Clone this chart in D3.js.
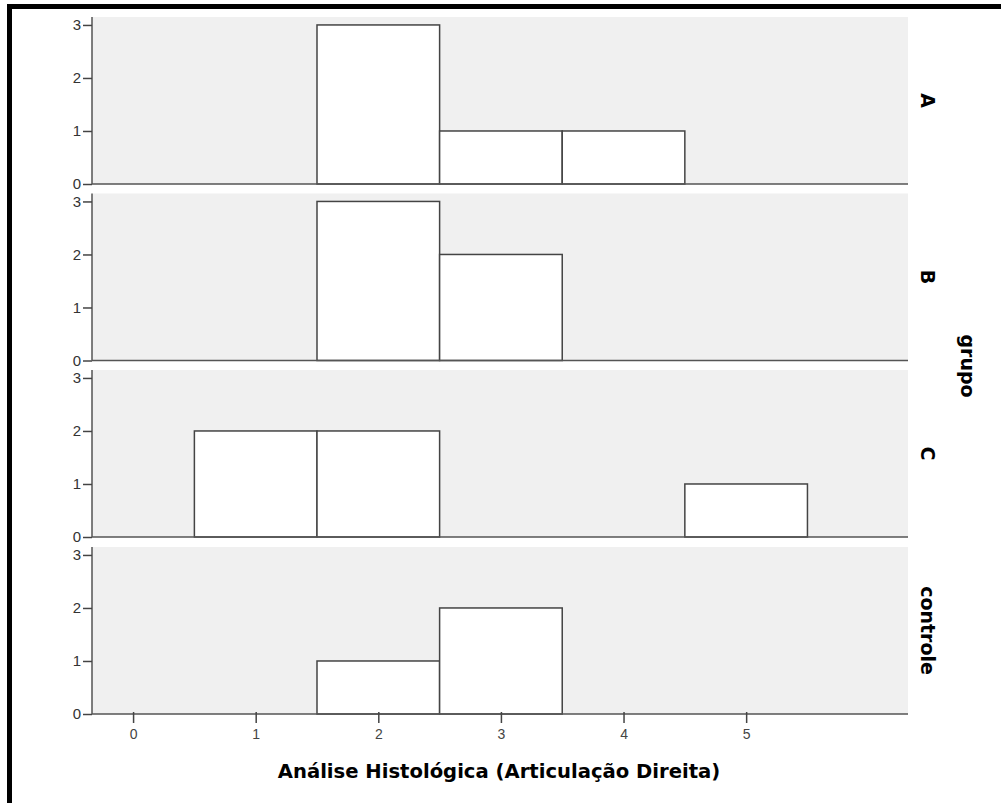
<!DOCTYPE html>
<html><head><meta charset="utf-8">
<script src="https://cdn.jsdelivr.net/npm/d3@7"></script>
<style>body{margin:0;background:#fff}svg{display:block}</style>
</head><body>
<svg id="c" width="1001" height="803"></svg>
<script>
const groups = ["A", "B", "C", "controle"];
const binCenters = [1, 2, 3, 4, 5];
const countsA = [0, 3, 1, 1, 0];
const countsB = [0, 3, 2, 0, 0];
const countsC = [2, 2, 0, 0, 1];
const countsControle = [0, 1, 2, 0, 0];
const xTicks = [0, 1, 2, 3, 4, 5];
const yTicks = [0, 1, 2, 3];
const xTitle = "Análise Histológica (Articulação Direita)";
const stripTitle = "grupo";

const series = [countsA, countsB, countsC, countsControle];
const svg = d3.select("#c");
const left = 92, right = 908;
const panelH = 167, panelTops = [17, 193.5, 370, 547];
const boldFont = "'DejaVu Sans', Verdana, sans-serif";
const tickFont = "Arial, 'Liberation Sans', sans-serif";

// frame (top & left only)
svg.append("rect").attr("x", 7).attr("y", 4).attr("width", 1001).attr("height", 5).attr("fill", "#000");
svg.append("rect").attr("x", 7).attr("y", 4).attr("width", 5).attr("height", 803).attr("fill", "#000");

const x = d3.scaleLinear().domain([-0.335, 6.32]).range([left, right]);

groups.forEach((g, i) => {
  const top = panelTops[i], bottom = top + panelH;
  const y = d3.scaleLinear().domain([0, 3.15]).range([bottom, top]);
  const p = svg.append("g");
  p.append("rect").attr("x", left).attr("y", top).attr("width", right - left).attr("height", panelH).attr("fill", "#f0f0f0");
  p.selectAll("rect.bar").data(binCenters.map((c, j) => ({c, v: series[i][j]})).filter(d => d.v > 0))
    .enter().append("rect").attr("class", "bar")
    .attr("x", d => x(d.c - 0.5)).attr("width", d => x(d.c + 0.5) - x(d.c - 0.5))
    .attr("y", d => y(d.v)).attr("height", d => y(0) - y(d.v))
    .attr("fill", "#fff").attr("stroke", "#444").attr("stroke-width", 1.5);
  p.append("line").attr("x1", left).attr("x2", right).attr("y1", bottom).attr("y2", bottom).attr("stroke", "#555").attr("stroke-width", 1.5);
  const ya = p.append("g").attr("transform", `translate(${left},0)`)
    .call(d3.axisLeft(y).tickValues(yTicks).tickFormat(d3.format("d")).tickSize(9).tickSizeOuter(0));
  ya.attr("font-size", 15).attr("font-family", tickFont);
  ya.select(".domain").attr("stroke", "#555").attr("stroke-width", 1.5).attr("d", `M0,${top}V${bottom}`);
  ya.selectAll(".tick line").attr("stroke", "#444").attr("stroke-width", 1.5);
  ya.selectAll(".tick text").attr("font-size", 15).attr("fill", "#333").attr("x", -11);
  p.append("text").attr("transform", `translate(928,${top + panelH / 2}) rotate(90)`)
    .attr("text-anchor", "middle").attr("dominant-baseline", "central")
    .attr("font-family", boldFont).attr("font-weight", "bold").attr("font-size", 19)
    .text(g);
});

const bottomY = panelTops[3] + panelH;
const xa = svg.append("g").attr("transform", `translate(0,${bottomY})`)
  .call(d3.axisBottom(x).tickValues(xTicks).tickFormat(d3.format("d")).tickSize(9).tickSizeOuter(0));
xa.attr("font-size", 14).attr("font-family", tickFont);
xa.select(".domain").remove();
xa.selectAll(".tick line").attr("stroke", "#444").attr("stroke-width", 1.5).attr("y1", -2);
xa.selectAll(".tick text").attr("font-size", 14).attr("fill", "#444").attr("y", 15);

svg.append("text").attr("x", 499).attr("y", 778).attr("text-anchor", "middle")
  .attr("font-family", boldFont).attr("font-weight", "bold").attr("font-size", 19.6)
  .text(xTitle);
svg.append("text").attr("transform", `translate(968,366) rotate(90)`)
  .attr("text-anchor", "middle").attr("dominant-baseline", "central")
  .attr("font-family", boldFont).attr("font-weight", "bold").attr("font-size", 19)
  .text(stripTitle);
</script>
</body></html>
